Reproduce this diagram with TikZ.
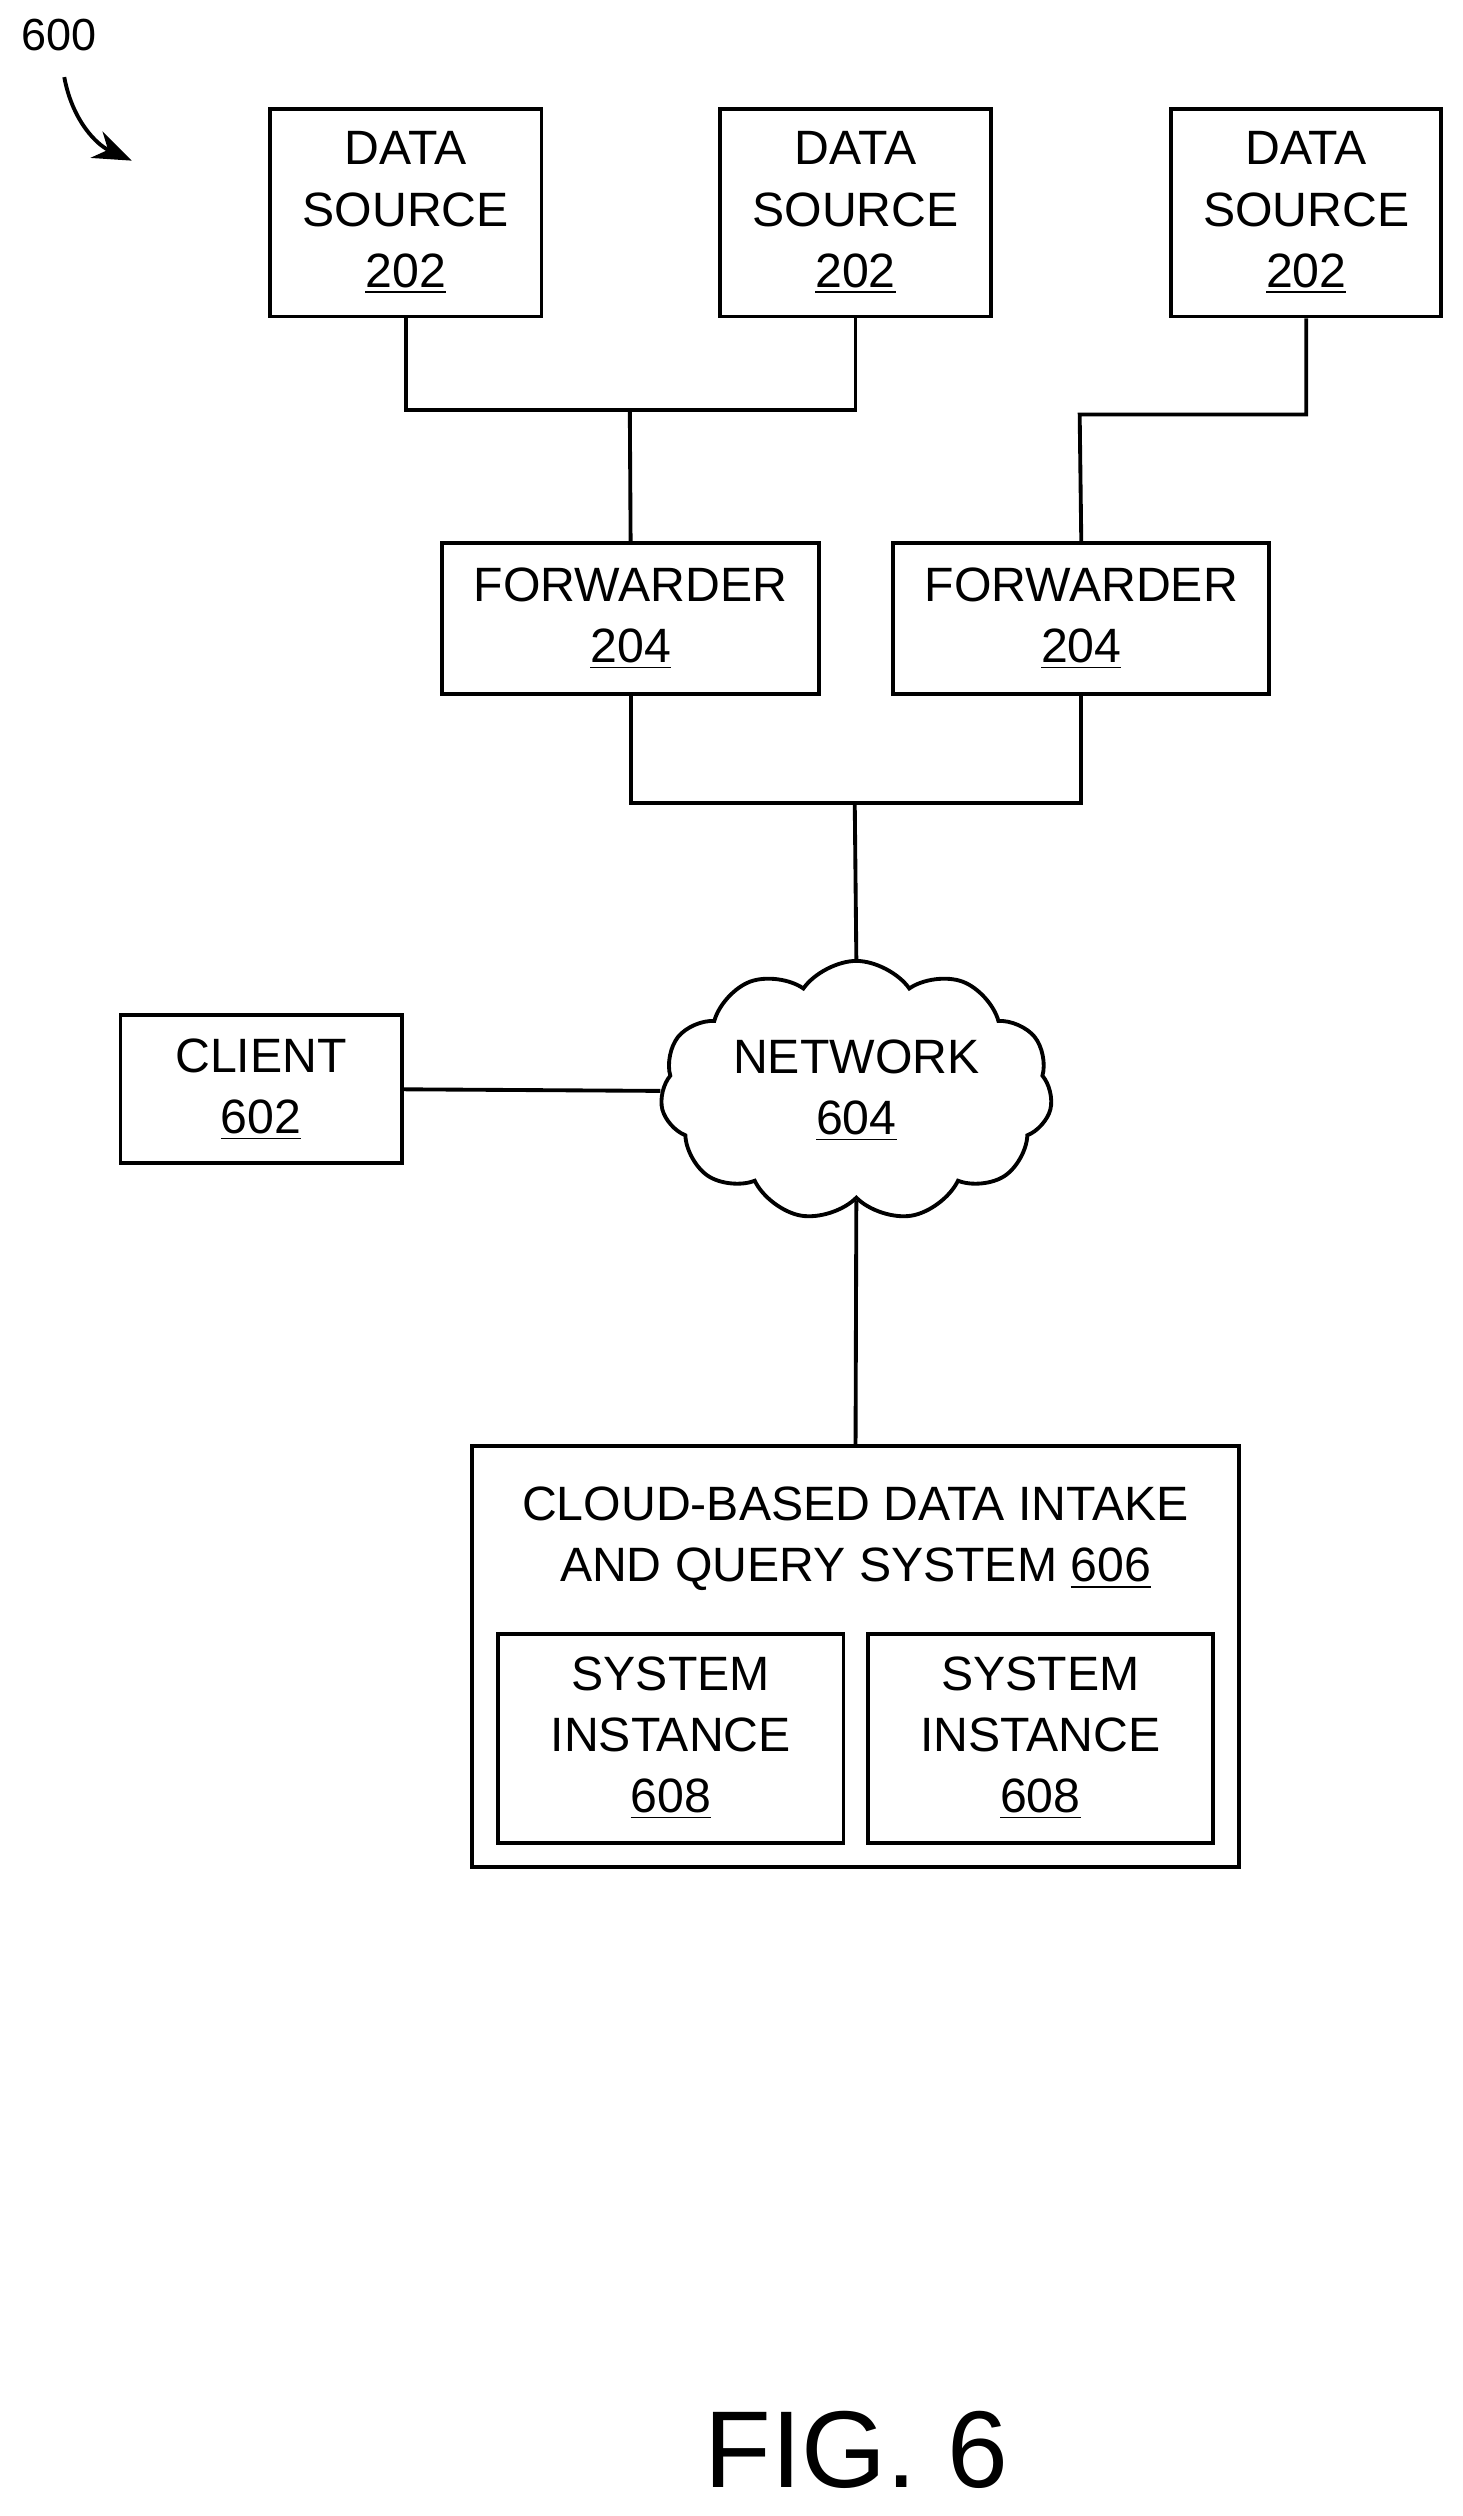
\documentclass[tikz,border=0pt]{standalone}
\usepackage{fontspec}
\setmainfont{Liberation Sans}
\usetikzlibrary{shapes.symbols,arrows.meta}
\begin{document}
\begin{tikzpicture}[x=0.5pt,y=-0.5pt,
  box/.style={draw,line width=1.2pt,align=center,font=\fontsize{15}{19}\selectfont,inner sep=0pt},
  ln/.style={line width=1.2pt}]
\useasboundingbox (0,0) rectangle (910,1566);
\node[box,minimum width=84.5pt,minimum height=64.5pt] (d1) at (252.5,132.5) {DATA\\SOURCE\\\underline{202}};
\node[box,minimum width=84.5pt,minimum height=64.5pt] (d2) at (532.5,132.5) {DATA\\SOURCE\\\underline{202}};
\node[box,minimum width=84pt,minimum height=64.5pt] (d3) at (813,132.5) {DATA\\SOURCE\\\underline{202}};
\node[box,minimum width=117.5pt,minimum height=47pt] (f1) at (392.5,385) {FORWARDER\\\underline{204}};
\node[box,minimum width=117pt,minimum height=47pt] (f2) at (673,385) {FORWARDER\\\underline{204}};
\node[box,minimum width=87.5pt,minimum height=46pt] (c) at (162.5,678) {CLIENT\\\underline{602}};
\node[cloud,draw,line width=1.2pt,cloud puffs=11,cloud puff arc=110,aspect=1.6,minimum width=122pt,minimum height=78pt,align=center,font=\fontsize{15}{19}\selectfont,inner sep=0pt] (n) at (533,679) {NETWORK\\\underline{604}};
\node[draw,line width=1.2pt,minimum width=238.5pt,minimum height=131pt] (s) at (532.5,1031) {};
\node[align=center,font=\fontsize{15}{19}\selectfont] (st) at (532.5,958) {CLOUD-BASED DATA INTAKE\\AND QUERY SYSTEM \underline{606}};
\node[box,minimum width=107.5pt,minimum height=65pt] (i1) at (417.5,1082) {SYSTEM\\INSTANCE\\\underline{608}};
\node[box,minimum width=107.5pt,minimum height=65pt] (i2) at (647.5,1082) {SYSTEM\\INSTANCE\\\underline{608}};
\node[font=\fontsize{34}{40}\selectfont] (fig) at (533,1525) {FIG. 6};
\node[font=\fontsize{14}{16}\selectfont] (lbl) at (37,22) {600};
\coordinate (j1) at (392,255);
\coordinate (j2) at (532,500);
\draw[ln] (d1.south) |- (j1) -| (d2.south);
\draw[ln] (j1) -- (f1.north);
\draw[ln] (d3.south) |- (672,258) -- (f2.north);
\draw[ln] (f1.south) |- (j2) -| (f2.south);
\draw[ln] (j2) -- (n.north);
\draw[ln] (c.east) -- (n.west);
\draw[ln] (n.south) -- (s.north);
\draw[line width=1.2pt,-{Stealth[length=12pt,width=9pt]}] (40,48) .. controls (45,75) and (60,90) .. (82,100);
\end{tikzpicture}
\end{document}
